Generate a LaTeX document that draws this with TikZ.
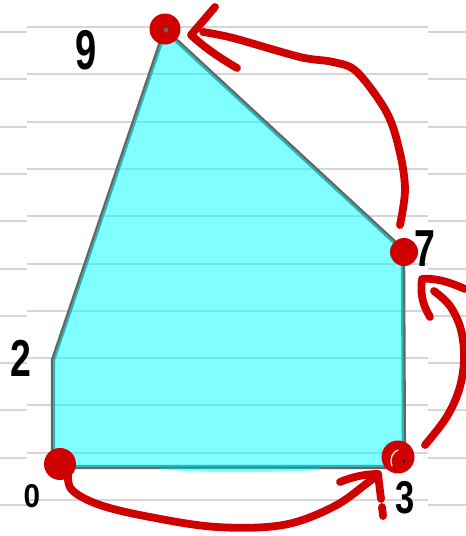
\documentclass[tikz,border=0pt]{standalone}
\usepackage{fontspec}
\newfontfamily\hand{Liberation Sans}
\definecolor{penred}{HTML}{D10000}
\definecolor{rulec}{HTML}{D6D6D6}
\definecolor{edgec}{HTML}{646464}
\definecolor{fillc}{HTML}{00FFFF}
\begin{document}
\begin{tikzpicture}[x=1pt,y=-1pt,
  redpen/.style={draw=penred, line width=7.8pt, line cap=round, line join=round},
  ruleline/.style={draw=rulec, line width=2pt},
  dot/.style={circle, fill=penred, inner sep=0pt},
  digit/.style={text=black, inner sep=0pt, font=\hand\bfseries}]
\useasboundingbox (0,0) rectangle (466,536);
\fill[white] (0,0) rectangle (466,536);
% ruled paper
\foreach \i in {0,...,10}{
  \pgfmathsetmacro{\yy}{27+47.3*\i}
  \draw[ruleline] (27,\yy) -- (428,\yy);
  \draw[ruleline] (0,\yy+5) -- (27,\yy+5);
  \draw[ruleline] (428,\yy+5) -- (466,\yy+5);
}
% polygon
\coordinate (v0) at (53,467);
\coordinate (v2) at (53,360);
\coordinate (v9) at (165,30);
\coordinate (v7) at (403,250);
\coordinate (v3) at (404,467);
\draw[edgec, line width=4.3pt, line join=round] (v0)--(v2)--(v9)--(v7)--(v3)--cycle;
\fill[fillc, fill opacity=0.5] (v0)--(v2)--(v9)--(v7)--(v3)--cycle;
\fill[fillc, fill opacity=0.5] (160,469) .. controls (200,473) and (260,473) .. (320,470) -- (320,468) -- (160,468) -- cycle;
% red dots
\node[dot, minimum size=31pt] (d9) at (165,29) {};
\fill[edgec] (166,30) circle (2.5pt);
\node[dot, minimum size=28pt] (d7) at (404,252) {};
\node[dot, minimum size=32pt] (d0) at (60,464) {};
\node[dot, minimum size=33pt] (d3) at (398,457) {};
\draw[white, line width=1.2pt, line cap=round] (392,466) .. controls (389,458) and (393,452) .. (398,450);
\fill[black] (404,461) circle (1.5pt);
% labels
\node[digit] (l9) at (86,50) {\fontsize{56}{56}\selectfont\scalebox{0.68}[1]{9}};
\node[digit] (l7) at (425,249) {\fontsize{52}{52}\selectfont\scalebox{0.72}[1]{7}};
\node[digit] (l2) at (21,358) {\fontsize{52}{52}\selectfont\scalebox{0.72}[1]{2}};
\node[digit] (l0) at (32,496) {\fontsize{33}{33}\selectfont\scalebox{0.9}[1]{0}};
\node[digit] (l3) at (405,498) {\fontsize{46}{46}\selectfont\scalebox{0.75}[1]{3}};
% arrow 7 -> 9
\coordinate (a1s) at (400,225);
\coordinate (a1t) at (191,35);
\draw[redpen] plot[smooth, tension=0.55] coordinates {(a1s) (405,190) (400,153) (387,113) (357,72) (333,62) (300,57) (233,38) (203,32)};
\draw[redpen] (215,7) -- (a1t) .. controls (205,48) and (220,58) .. (237,68);
% arrow 3 -> 7
\coordinate (a2s) at (425,445);
\coordinate (a2t) at (422,279);
\draw[redpen] plot[smooth, tension=0.6] coordinates {(a2s) (446,418) (459,390) (464,360) (461,330) (450,306) (434,291)};
\draw[redpen] (465,289) .. controls (445,280) and (432,278) .. (a2t) .. controls (420,295) and (423,305) .. (430,317);
% arrow 0 -> 3
\coordinate (a3s) at (68,473);
\coordinate (a3t) at (378,474);
\draw[redpen] plot[smooth, tension=0.6] coordinates {(a3s) (72,490) (100,505) (150,517) (217,527) (283,525) (333,507) (366,484) (a3t)};
\draw[redpen] (340,482) .. controls (352,477) and (365,474) .. (a3t) -- (381,499);
\draw[redpen] (382,507) -- (383,516);
\end{tikzpicture}
\end{document}
